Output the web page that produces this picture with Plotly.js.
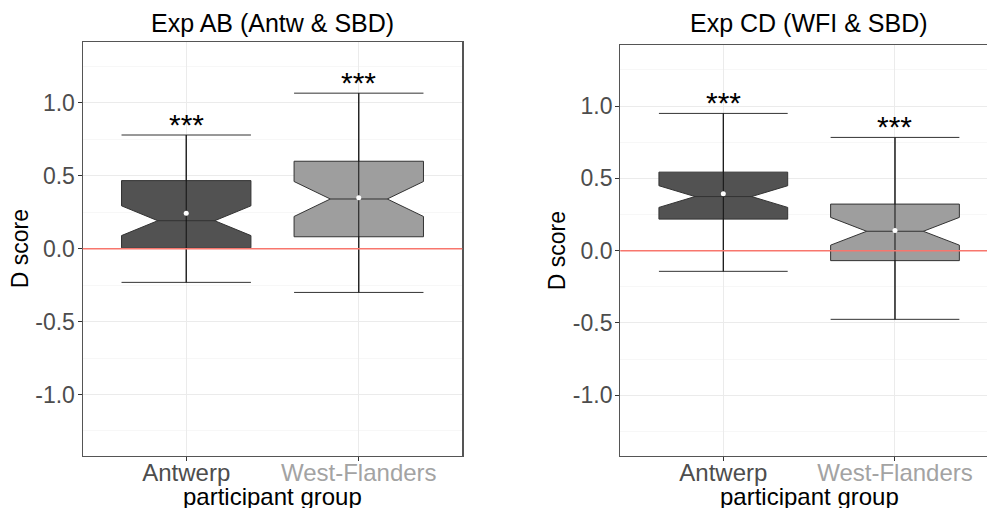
<!DOCTYPE html>
<html>
<head>
<meta charset="utf-8">
<script src="https://cdn.plot.ly/plotly-3.0.1.min.js"></script>
<style>
  html, body { margin: 0; padding: 0; overflow: hidden; background: #ffffff; }
  #chart { width: 1000px; height: 508px; }
</style>
</head>
<body>
<div id="chart"></div>
<script>
// ---------- data ----------
const groups = ['Antwerp', 'West-Flanders'];
const groupColors = ['#525252', '#9E9E9E'];
const tickColors = ['#4D4D4D', '#A3A3A3'];
const panelTitles = ['Exp AB (Antw & SBD)', 'Exp CD (WFI & SBD)'];
const xTitle = 'participant group';
const yTitle = 'D score';
const significance = ['***', '***'];

// Exp AB (Antw & SBD)
const abQ1     = [0.006, 0.082];
const abMedian = [0.192, 0.341];
const abQ3     = [0.467, 0.600];
const abLower  = [-0.231, -0.300];
const abUpper  = [0.780, 1.067];
const abNotch  = [0.102, 0.120];
const abMean   = [0.243, 0.350];

// Exp CD (WFI & SBD)
const cdQ1     = [0.218, -0.069];
const cdMedian = [0.374, 0.134];
const cdQ3     = [0.543, 0.322];
const cdLower  = [-0.143, -0.475];
const cdUpper  = [0.949, 0.783];
const cdNotch  = [0.075, 0.096];
const cdMean   = [0.393, 0.139];

const yTicks = [-1.0, -0.5, 0.0, 0.5, 1.0];
const yTickText = ['-1.0', '-0.5', '0.0', '0.5', '1.0'];
const refLine = 0;

// ---------- build ----------
const FONT = 'Liberation Sans, Arial, sans-serif';
const traces = [];
const annotations = [];

function panel(ax, q1, med, q3, lo, hi, notch, mean) {
  const xa = 'x' + ax, ya = 'y' + ax;
  groups.forEach((g, i) => {
    traces.push({
      type: 'box', xaxis: xa, yaxis: ya,
      x: [g], q1: [q1[i]], median: [med[i]], q3: [q3[i]],
      lowerfence: [lo[i]], upperfence: [hi[i]], notchspan: [notch[i]],
      notched: true, notchwidth: 0.28, whiskerwidth: 1, width: 0.75,
      fillcolor: groupColors[i], line: {color: '#333333', width: 1},
      boxpoints: false, showlegend: false, hoverinfo: 'skip'
    });
    traces.push({
      type: 'scatter', mode: 'lines', xaxis: xa, yaxis: ya,
      x: [g, g], y: [lo[i], hi[i]],
      line: {color: '#111111', width: 1}, showlegend: false, hoverinfo: 'skip'
    });
    annotations.push({
      xref: xa, yref: ya, x: g, y: hi[i], text: significance[i],
      showarrow: false, yanchor: 'middle', yshift: 11,
      font: {family: FONT, size: 30, color: '#000000'}
    });
  });
  traces.push({
    type: 'scatter', mode: 'markers', xaxis: xa, yaxis: ya,
    x: groups, y: mean,
    marker: {color: '#FFFFFF', size: 5}, showlegend: false, hoverinfo: 'skip'
  });
}
panel('', abQ1, abMedian, abQ3, abLower, abUpper, abNotch, abMean);
panel('2', cdQ1, cdMedian, cdQ3, cdLower, cdUpper, cdNotch, cdMean);

const tickText = groups.map((g, i) => '<span style="color:' + tickColors[i] + '">' + g + '</span>');

function xAxis(domain) {
  return {
    domain: domain, type: 'category', range: [-0.6, 1.6],
    tickvals: groups, ticktext: tickText,
    tickfont: {family: FONT, size: 24, color: '#4D4D4D'},
    ticks: 'outside', ticklen: 4, tickcolor: '#333333', ticklabelstandoff: -9,
    showgrid: true, gridcolor: '#EBEBEB', gridwidth: 1,
    showline: true, mirror: true, linecolor: '#555555', linewidth: 1.2,
    zeroline: false, fixedrange: true
  };
}
function yAxis(domain, anchor) {
  return {
    domain: domain, anchor: anchor, range: [-1.42, 1.42],
    tickvals: yTicks, ticktext: yTickText,
    tickfont: {family: FONT, size: 23, color: '#4D4D4D'},
    ticks: 'outside', ticklen: 4, tickcolor: '#333333', ticklabelstandoff: -2,
    showgrid: true, gridcolor: '#EBEBEB', gridwidth: 1,
    minor: {dtick: 0.5, tick0: 0.25, showgrid: true, gridcolor: '#F2F2F2', gridwidth: 0.6, ticks: ''},
    showline: true, mirror: true, linecolor: '#555555', linewidth: 1.2,
    zeroline: false, fixedrange: true,
    title: {text: yTitle, font: {family: FONT, size: 23, color: '#000000'}, standoff: 0}
  };
}

const dom1 = [0.0827, 0.4623], dom2 = [0.6203, 0.998];
[dom1, dom2].forEach((d, k) => {
  annotations.push({
    xref: 'paper', yref: 'paper', x: (d[0] + d[1]) / 2, y: 1 - 23 / 508,
    xanchor: 'center', yanchor: 'middle', showarrow: false,
    text: panelTitles[k], font: {family: FONT, size: 25, color: '#000000'}
  });
  annotations.push({
    xref: 'paper', yref: 'paper', x: (d[0] + d[1]) / 2, y: 1 - 496 / 508,
    xanchor: 'center', yanchor: 'middle', showarrow: false,
    text: xTitle, font: {family: FONT, size: 24, color: '#000000'}
  });
});

const layout = {
  width: 1000, height: 508,
  margin: {l: 0, r: 0, t: 0, b: 0},
  paper_bgcolor: '#FFFFFF', plot_bgcolor: '#FFFFFF',
  boxmode: 'overlay', showlegend: false, hovermode: false,
  xaxis: Object.assign(xAxis(dom1), {anchor: 'y'}),
  yaxis: yAxis([1 - 455.7 / 508, 1 - 41.7 / 508], 'x'),
  xaxis2: Object.assign(xAxis(dom2), {anchor: 'y2'}),
  yaxis2: yAxis([1 - 456 / 508, 1 - 45.3 / 508], 'x2'),
  shapes: [
    {type: 'line', xref: 'x domain', yref: 'y', x0: 0, x1: 1, y0: refLine, y1: refLine,
     line: {color: '#F8766D', width: 1.5}, layer: 'above'},
    {type: 'line', xref: 'x2 domain', yref: 'y2', x0: 0, x1: 1, y0: refLine, y1: refLine,
     line: {color: '#F8766D', width: 1.5}, layer: 'above'}
  ],
  annotations: annotations,
  font: {family: FONT}
};

Plotly.newPlot('chart', traces, layout, {staticPlot: true, displayModeBar: false, responsive: false});
</script>
</body>
</html>
